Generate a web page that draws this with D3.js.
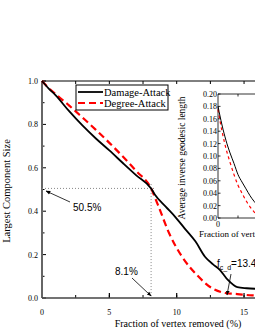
<!DOCTYPE html>
<html>
<head>
<meta charset="utf-8">
<script src="https://cdn.jsdelivr.net/npm/d3@7"></script>
<style>
  body { margin: 0; background: #fff; }
  svg { display: block; }
  .serif { font-family: 'Liberation Serif', 'DejaVu Serif', serif; }
  .sans { font-family: 'Liberation Sans', Arial, sans-serif; }
</style>
</head>
<body>
<div id="chart"></div>
<script>
// main chart: largest component size vs fraction removed
let damageX = [0, 0.5, 1, 2, 3, 4, 5, 6, 7, 8.1, 8.4, 9.2, 9.9, 10.6, 11.4, 12.1, 12.7, 13.2, 13.8, 14.5, 15.2, 16, 17]
let damageY = [1, 0.965, 0.935, 0.862, 0.795, 0.735, 0.68, 0.622, 0.565, 0.505, 0.475, 0.42, 0.373, 0.32, 0.26, 0.19, 0.155, 0.13, 0.083, 0.05, 0.045, 0.042, 0.04]
let degreeX = [0, 0.3, 1, 2, 3, 4, 5, 6, 7, 8.1, 8.6, 9.5, 10.4, 11.5, 12.6, 13.6, 14.5, 15.6, 17]
let degreeY = [1, 0.98, 0.94, 0.888, 0.832, 0.775, 0.715, 0.652, 0.585, 0.505, 0.43, 0.29, 0.19, 0.106, 0.046, 0.023, 0.018, 0.012, 0.01]

// inset: average inverse geodesic length
let insetX = [0, 2, 4, 6, 8, 10, 12, 14, 16, 18, 20]
let insetDamage = [0.18, 0.15, 0.125, 0.105, 0.088, 0.07, 0.058, 0.047, 0.036, 0.027, 0.02]
let insetDegree = [0.175, 0.14, 0.112, 0.09, 0.07, 0.053, 0.04, 0.028, 0.018, 0.01, 0.005]

let xTicks = [0, 5, 10, 15]
let yTicks = [0, 0.2, 0.4, 0.6, 0.8, 1.0]
let insetYTicks = [0, 0.02, 0.04, 0.06, 0.08, 0.10, 0.12, 0.14, 0.16, 0.18, 0.20]
let legendLabels = ['Damage-Attack', 'Degree-Attack']

let width = 255, height = 330

let svg = d3.select('#chart').append('svg')
  .attr('width', width)
  .attr('height', height)

let defs = svg.append('defs')
defs.append('marker')
  .attr('id', 'arrow')
  .attr('viewBox', '0 0 10 10')
  .attr('refX', 9).attr('refY', 5)
  .attr('markerWidth', 6).attr('markerHeight', 6)
  .attr('orient', 'auto')
  .append('path').attr('d', 'M0,1 L10,5 L0,9 Z').attr('fill', '#000')

let x = d3.scaleLinear().domain([0, 17]).range([42, 42 + 17 * 13.47])
let y = d3.scaleLinear().domain([0, 1]).range([298, 81])

// top frame line
svg.append('line')
  .attr('x1', x(0)).attr('x2', width).attr('y1', y(1)).attr('y2', y(1))
  .attr('stroke', '#000').attr('stroke-width', 1)

let xMinor = d3.range(0, 17, 2.5)
let yMinor = d3.range(0, 1.01, 0.1)

// ticks
svg.selectAll('.xminor').data(xMinor).enter().append('line')
  .attr('x1', d => x(d)).attr('x2', d => x(d))
  .attr('y1', y(0)).attr('y2', y(0) - 3)
  .attr('stroke', '#000').attr('stroke-width', 1)
svg.selectAll('.xminortop').data(xMinor).enter().append('line')
  .attr('x1', d => x(d)).attr('x2', d => x(d))
  .attr('y1', y(1)).attr('y2', y(1) + 3)
  .attr('stroke', '#000').attr('stroke-width', 1)
svg.selectAll('.yminor').data(yMinor).enter().append('line')
  .attr('x1', x(0)).attr('x2', d => x(0) + (Math.round(d * 10) % 2 === 0 ? 4 : 2.5))
  .attr('y1', d => y(d)).attr('y2', d => y(d))
  .attr('stroke', '#000').attr('stroke-width', 1)
svg.selectAll('.xmajor').data(xTicks).enter().append('line')
  .attr('x1', d => x(d)).attr('x2', d => x(d))
  .attr('y1', y(0)).attr('y2', y(0) - 5)
  .attr('stroke', '#000').attr('stroke-width', 1.2)

// axes lines
svg.append('line')
  .attr('x1', x(0)).attr('x2', x(0)).attr('y1', y(0)).attr('y2', y(1))
  .attr('stroke', '#666').attr('stroke-width', 2)
svg.append('line')
  .attr('x1', x(0)).attr('x2', width).attr('y1', y(0)).attr('y2', y(0))
  .attr('stroke', '#444').attr('stroke-width', 1.6)

// tick labels
svg.selectAll('.xlab').data(xTicks).enter().append('text')
  .attr('class', 'serif')
  .attr('x', d => x(d)).attr('y', 315)
  .attr('text-anchor', 'middle')
  .attr('font-size', 8)
  .text(d => d)
svg.selectAll('.ylab').data(yTicks).enter().append('text')
  .attr('class', 'serif')
  .attr('x', 38).attr('y', d => y(d) + 3)
  .attr('text-anchor', 'end')
  .attr('font-size', 8)
  .text(d => d3.format('.1f')(d))

// axis titles
svg.append('text')
  .attr('class', 'serif')
  .attr('x', 178).attr('y', 327)
  .attr('text-anchor', 'middle')
  .attr('font-size', 10)
  .text('Fraction of vertex removed (%)')
svg.append('text')
  .attr('class', 'serif')
  .attr('transform', 'translate(10,191) rotate(-90)')
  .attr('text-anchor', 'middle')
  .attr('font-size', 10.5)
  .text('Largest Component Size')

// dotted guide lines at crossing
svg.append('line')
  .attr('x1', x(0)).attr('x2', x(8.1) + 3).attr('y1', y(0.505)).attr('y2', y(0.505))
  .attr('stroke', '#888').attr('stroke-width', 1).attr('stroke-dasharray', '1,2')
svg.append('line')
  .attr('x1', x(8.1)).attr('x2', x(8.1)).attr('y1', y(0.525)).attr('y2', y(0))
  .attr('stroke', '#888').attr('stroke-width', 1).attr('stroke-dasharray', '1,2')

let line = d3.line().curve(d3.curveMonotoneX)

svg.append('path')
  .attr('d', line(degreeX.map((d, i) => [x(d), y(degreeY[i])])))
  .attr('fill', 'none').attr('stroke', '#f00')
  .attr('stroke-width', 2.2).attr('stroke-dasharray', '7,4')
svg.append('path')
  .attr('d', line(damageX.map((d, i) => [x(d), y(damageY[i])])))
  .attr('fill', 'none').attr('stroke', '#000').attr('stroke-width', 1.8)

// annotations
svg.append('text').attr('class', 'sans')
  .attr('x', 73).attr('y', 211).attr('font-size', 10).text('50.5%')
svg.append('line')
  .attr('x1', 70).attr('y1', 202).attr('x2', 46).attr('y2', 191)
  .attr('stroke', '#000').attr('stroke-width', 0.8).attr('marker-end', 'url(#arrow)')

svg.append('text').attr('class', 'sans')
  .attr('x', 115).attr('y', 275).attr('font-size', 10).text('8.1%')
svg.append('line')
  .attr('x1', 132).attr('y1', 278).attr('x2', x(8.1)).attr('y2', 296)
  .attr('stroke', '#000').attr('stroke-width', 0.8).attr('marker-end', 'url(#arrow)')

let fc = svg.append('text').attr('class', 'sans')
  .attr('x', 217).attr('y', 267).attr('font-size', 10)
fc.append('tspan').text('f')
fc.append('tspan').attr('font-size', 7).attr('dy', 3).text('c_d')
fc.append('tspan').attr('dy', -3).text('=13.4%')
svg.append('line')
  .attr('x1', 231).attr('y1', 274).attr('x2', 227).attr('y2', 295)
  .attr('stroke', '#000').attr('stroke-width', 0.8).attr('marker-end', 'url(#arrow)')

// legend
let legend = svg.append('g')
legend.append('rect')
  .attr('x', 76).attr('y', 85).attr('width', 92).attr('height', 25)
  .attr('fill', '#fff').attr('stroke', '#000').attr('stroke-width', 1)
legendLabels.forEach((lab, i) => {
  let ly = 92 + i * 11
  legend.append('line')
    .attr('x1', 78).attr('x2', 103).attr('y1', ly).attr('y2', ly)
    .attr('stroke', i === 0 ? '#000' : '#f00')
    .attr('stroke-width', i === 0 ? 1.8 : 2.2)
    .attr('stroke-dasharray', i === 0 ? null : '7,4')
  legend.append('text').attr('class', 'serif')
    .attr('x', 104).attr('y', ly + 3.5).attr('font-size', 10.5).text(lab)
})

// inset
let ix = d3.scaleLinear().domain([0, 50]).range([218, 318])
let iy = d3.scaleLinear().domain([0, 0.2]).range([218, 94])

let inset = svg.append('g')
inset.append('rect')
  .attr('x', ix(0)).attr('y', iy(0.2)).attr('width', width - ix(0)).attr('height', iy(0) - iy(0.2))
  .attr('fill', '#fff')
inset.append('line')
  .attr('x1', ix(0)).attr('x2', width).attr('y1', iy(0.2)).attr('y2', iy(0.2))
  .attr('stroke', '#000').attr('stroke-width', 0.8)
inset.append('line')
  .attr('x1', ix(0)).attr('x2', width).attr('y1', iy(0)).attr('y2', iy(0))
  .attr('stroke', '#000').attr('stroke-width', 0.8)
inset.append('line')
  .attr('x1', ix(0)).attr('x2', ix(0)).attr('y1', iy(0)).attr('y2', iy(0.2))
  .attr('stroke', '#000').attr('stroke-width', 0.8)
inset.selectAll('.iyt').data(insetYTicks).enter().append('line')
  .attr('x1', ix(0)).attr('x2', ix(0) + 2.5)
  .attr('y1', d => iy(d)).attr('y2', d => iy(d))
  .attr('stroke', '#000').attr('stroke-width', 0.8)
inset.selectAll('.iylab').data(insetYTicks).enter().append('text')
  .attr('class', 'serif')
  .attr('x', ix(0) - 1).attr('y', d => iy(d) + 3)
  .attr('text-anchor', 'end').attr('font-size', 8)
  .text(d => d3.format('.2f')(d))
inset.selectAll('.ixt').data([10, 20, 30]).enter().append('line')
  .attr('x1', d => ix(d)).attr('x2', d => ix(d))
  .attr('y1', iy(0)).attr('y2', iy(0) - 2.5)
  .attr('stroke', '#000').attr('stroke-width', 0.8)
inset.selectAll('.ixtt').data([10, 20, 30]).enter().append('line')
  .attr('x1', d => ix(d)).attr('x2', d => ix(d))
  .attr('y1', iy(0.2)).attr('y2', iy(0.2) + 2.5)
  .attr('stroke', '#000').attr('stroke-width', 0.8)
inset.append('text').attr('class', 'serif')
  .attr('x', ix(0)).attr('y', 227).attr('text-anchor', 'middle')
  .attr('font-size', 8).text('0')
inset.append('text').attr('class', 'serif')
  .attr('x', 199).attr('y', 237).attr('font-size', 9)
  .text('Fraction of vertex removed (%)')
inset.append('text').attr('class', 'serif')
  .attr('transform', 'translate(185,158) rotate(-90)')
  .attr('text-anchor', 'middle').attr('font-size', 9.5)
  .text('Average inverse geodesic length')

inset.append('path')
  .attr('d', line(insetX.map((d, i) => [ix(d), iy(insetDegree[i])])))
  .attr('fill', 'none').attr('stroke', '#f00')
  .attr('stroke-width', 1.2).attr('stroke-dasharray', '3,3')
inset.append('path')
  .attr('d', line(insetX.map((d, i) => [ix(d), iy(insetDamage[i])])))
  .attr('fill', 'none').attr('stroke', '#000').attr('stroke-width', 1)
</script>
</body>
</html>
